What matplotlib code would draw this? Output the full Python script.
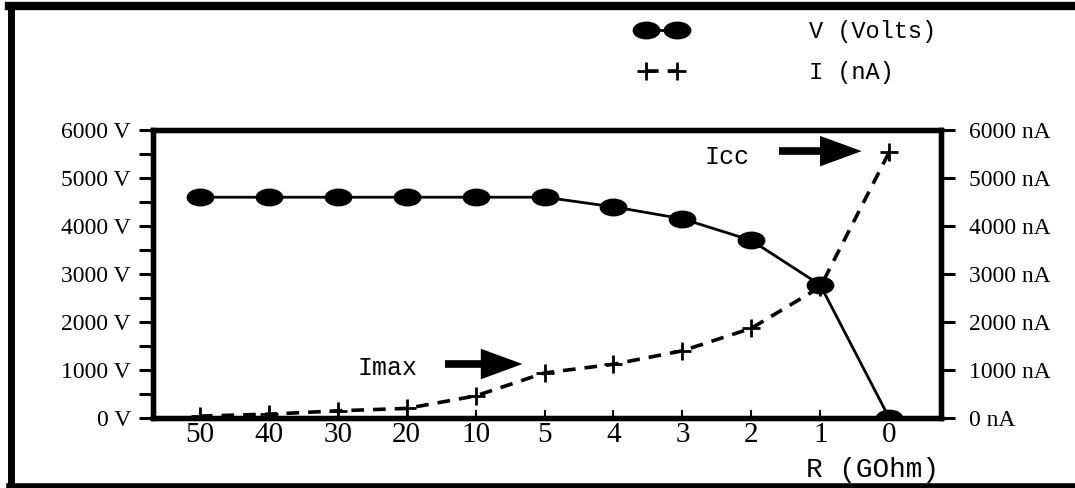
import matplotlib
matplotlib.use('Agg')
import matplotlib.pyplot as plt
from matplotlib.lines import Line2D
from matplotlib.path import Path
import numpy as np

# ----------------------------------------------------
# data
# ----------------------------------------------------
r_labels = ['50', '40', '30', '20', '10', '5', '4', '3', '2', '1', '0']
volts = [4600, 4600, 4600, 4600, 4600, 4600, 4400, 4150, 3700, 2770, 0]
current_nA = [40, 80, 150, 200, 460, 940, 1120, 1400, 1870, 2730, 5540]
v_ticks = [0, 1000, 2000, 3000, 4000, 5000, 6000]

x = np.arange(len(r_labels))

serif = 'Liberation Serif'
mono = 'Liberation Mono'

# flattened ellipse marker
circ = Path.unit_circle()
ellipse = Path(circ.vertices * np.array([1.6, 1.0]), circ.codes)

fig = plt.figure(figsize=(10.75, 4.88), dpi=100)
ax = fig.add_axes([0.1423, 0.1434, 0.7330, 0.5902])

line_v, = ax.plot(x, volts, color='black', lw=2.0, marker=ellipse,
                  markersize=19, label='V (Volts)', zorder=3)
ax.set_xlim(-0.68, 10.75)
ax.set_ylim(0, 6000)

ax2 = ax.twinx()
line_i, = ax2.plot(x, current_nA, color='black', lw=2.6, dashes=(3.5, 2.5),
                   marker='+', markersize=13, mew=2.0, label='I (nA)', zorder=3)
ax2.set_ylim(0, 6000)

# axes look
for a in (ax, ax2):
    for s in a.spines.values():
        s.set_linewidth(3.8)

ax.set_yticks(v_ticks)
ax.set_yticklabels([f'{v} V' for v in v_ticks], family=serif, fontsize=17)
ax.set_yticks(np.arange(500, 6000, 1000), minor=True)
ax.tick_params(axis='y', which='both', direction='out', length=10, width=2.2, pad=6)

ax2.set_yticks(v_ticks)
ax2.set_yticklabels([f'{v} nA' for v in v_ticks], family=serif, fontsize=17)
ax2.tick_params(axis='y', direction='out', length=10, width=2.2, pad=10)

ax.set_xticks(x)
ax.set_xticklabels(r_labels, family=serif, fontsize=21)
ax.tick_params(axis='x', direction='in', length=6, width=1.5, pad=3)

fig.text(0.812, 0.036, 'R (GOhm)', family=mono, fontsize=20, ha='center', va='center')

# annotations
arrow = dict(arrowstyle='-|>,head_length=1.5,head_width=0.55',
             lw=0, color='black', shrinkA=0, shrinkB=0, mutation_scale=20)
ax.text(2.72, 1042, 'Imax', family=mono, fontsize=18, ha='center', va='center')
ax.annotate('', xy=(4.68, 1125), xytext=(3.55, 1125), arrowprops=arrow)
ax.plot([3.55, 4.1], [1125, 1125], color='black', lw=5.5, solid_capstyle='butt')
ax.text(7.65, 5440, 'Icc', family=mono, fontsize=18, ha='center', va='center')
ax.annotate('', xy=(9.6, 5560), xytext=(8.4, 5560), arrowprops=arrow)
ax.plot([8.4, 9.0], [5560, 5560], color='black', lw=5.5, solid_capstyle='butt')

# legend at the top
fig.legend(handles=[line_v, line_i], loc='center left',
           bbox_to_anchor=(0.575, 0.893), frameon=False, numpoints=2,
           handlelength=1.9, handletextpad=5.3, labelspacing=0.75,
           prop=dict(family=mono, size=17))

# outer frame
fig.add_artist(Line2D([0.008, 1.0], [0.988, 0.988], transform=fig.transFigure,
                      color='black', lw=6))
fig.add_artist(Line2D([0.0105, 0.0105], [0.0, 0.99], transform=fig.transFigure,
                      color='black', lw=5))
fig.add_artist(Line2D([0.008, 1.0], [0.005, 0.005], transform=fig.transFigure,
                      color='black', lw=4))

fig.savefig('out.png', dpi=100)
